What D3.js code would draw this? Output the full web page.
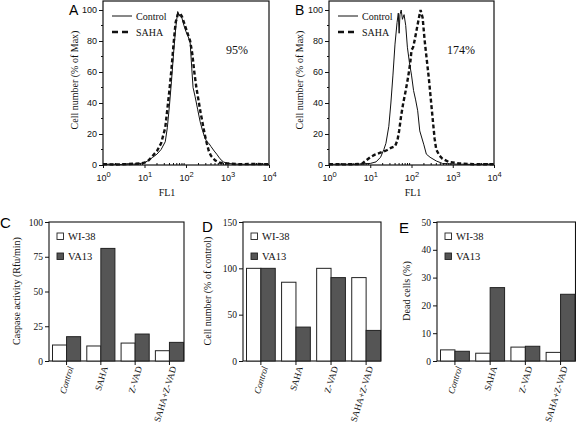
<!DOCTYPE html>
<html><head><meta charset="utf-8">
<script src="https://cdn.jsdelivr.net/npm/d3@7"></script>
<style>body{margin:0;background:#fff}svg{display:block}</style>
</head><body>
<svg id="c" width="576" height="427"></svg>
<script>
// ---------- DATA ----------
// Flow histograms: [log10(FL1), % of max]
const aControl = [[0,0.4],[0.2,0.6],[0.4,0.3],[0.6,0.7],[0.8,0.5],[0.9,1],[1.0,1.5],[1.1,3],[1.2,5],[1.3,7],[1.4,10],[1.5,15],[1.55,24],[1.6,38],[1.65,54],[1.7,72],[1.75,88],[1.8,99],[1.85,96],[1.9,95],[1.95,90],[2.0,86],[2.05,83],[2.1,79],[2.14,62],[2.17,50],[2.22,44],[2.28,36],[2.34,28],[2.4,22],[2.45,18],[2.5,15],[2.55,14],[2.6,12],[2.68,9],[2.74,7],[2.82,4],[2.9,2],[3.0,1],[3.2,0.6],[3.5,0.4],[3.8,0.6],[4.0,0.4]];
const aSaha = [[0,0.5],[0.3,0.3],[0.6,0.6],[0.9,1],[1.0,1.5],[1.1,3],[1.2,6],[1.3,9],[1.4,14],[1.5,24],[1.55,36],[1.6,48],[1.65,62],[1.7,78],[1.75,92],[1.8,97],[1.85,98],[1.9,96],[1.95,92],[2.0,88],[2.05,84],[2.1,80],[2.15,72],[2.2,60],[2.25,50],[2.3,42],[2.35,34],[2.4,27],[2.45,20],[2.5,14],[2.55,9],[2.6,6],[2.7,3],[2.8,1.5],[3.0,1],[3.3,0.5],[3.6,0.7],[4.0,0.5]];
const bControl = [[0,0.4],[0.3,0.6],[0.6,0.4],[0.85,0.8],[1.0,1],[1.14,2],[1.25,5],[1.33,10],[1.38,14],[1.45,25],[1.5,40],[1.55,58],[1.6,78],[1.65,92],[1.68,98],[1.7,85],[1.72,97],[1.75,100],[1.78,94],[1.82,97],[1.86,90],[1.9,76],[1.95,66],[2.0,58],[2.05,48],[2.1,42],[2.15,35],[2.2,22],[2.3,13],[2.36,7],[2.45,5],[2.6,2.6],[2.75,1],[3.0,0.6],[3.5,0.4],[4,0.5]];
const bSaha = [[0,0.5],[0.4,0.4],[0.7,0.6],[0.81,1],[0.9,3],[1.0,5],[1.1,6.5],[1.2,7.5],[1.3,8.5],[1.4,9.5],[1.5,11],[1.6,12],[1.66,16],[1.7,22],[1.75,32],[1.8,40],[1.86,48],[1.92,57],[1.97,66],[2.0,74],[2.04,76],[2.08,81],[2.13,88],[2.18,95],[2.22,100],[2.27,95],[2.32,80],[2.37,68],[2.42,56],[2.47,42],[2.52,28],[2.56,17],[2.6,10],[2.68,6],[2.75,4],[2.9,2],[3.15,1],[3.5,0.5],[4,0.5]];
const histYTicks = [0,20,40,60,80,100];
const histXTicks = [1,10,100,1000,10000];
const histXExp = ["0","1","2","3","4"];
const histPercent = ["95%","174%"];

const categories = ["Control","SAHA","Z-VAD","SAHA+Z-VAD"];
const seriesNames = ["WI-38","VA13"];
const caspaseWI = [11.5,10.8,12.9,7.4];
const caspaseVA = [17.5,81,19.4,13.4];
const cellWI = [100,85,100,90];
const cellVA = [100,36.6,90,33];
const deadWI = [4.0,2.8,5.0,3.1];
const deadVA = [3.5,26.4,5.3,24.0];
const caspaseTicks = [0,25,50,75,100];
const cellTicks = [0,50,100,150];
const deadTicks = [0,10,20,30,40,50];

// ---------- DRAW ----------
const svg = d3.select("#c");
const SERIF = "Liberation Serif, Times New Roman, serif";
const SANS = "Liberation Sans, Arial, sans-serif";
const INK = "#111";

function histPanel(o){
  const g = svg.append("g");
  const x = d3.scaleLog().domain([1,1e4]).range([o.x0,o.x1]);
  const y = d3.scaleLinear().domain([0,100]).range([165,10]);
  const top = 1;
  g.append("rect").attr("x",o.x0).attr("y",top).attr("width",o.x1-o.x0).attr("height",y(0)-top)
    .attr("fill","none").attr("stroke",INK).attr("stroke-width",1.2);
  const ya = g.append("g").attr("transform",`translate(${o.x0},0)`)
    .call(d3.axisLeft(y).tickValues(histYTicks).tickSize(4).tickPadding(2));
  ya.select(".domain").remove();
  ya.selectAll("line").attr("stroke",INK);
  ya.selectAll("text").attr("font-family",SANS).attr("font-size",9).attr("fill",INK);
  g.selectAll(".ym").data(d3.range(10,100,20)).enter().append("line")
    .attr("x1",o.x0-2).attr("x2",o.x0).attr("y1",d=>y(d)).attr("y2",d=>y(d)).attr("stroke",INK);
  const xa = g.append("g").attr("transform",`translate(0,${y(0)})`)
    .call(d3.axisBottom(x).tickValues(histXTicks).tickSize(3).tickFormat(""));
  xa.select(".domain").remove();
  xa.selectAll("line").attr("stroke",INK);
  xa.selectAll(".tick").append("text").attr("y",16).attr("fill",INK)
    .attr("font-family",SANS).attr("font-size",9).attr("text-anchor","middle")
    .each(function(d,i){
      const t=d3.select(this);
      t.append("tspan").text("10");
      t.append("tspan").attr("dy",-4).attr("font-size",7.5).text(histXExp[i]);
    });
  const minors=[];
  for(let dec=1;dec<1e4;dec*=10) for(let k=2;k<10;k++) minors.push(dec*k);
  g.selectAll(".xm").data(minors).enter().append("line")
    .attr("x1",d=>x(d)).attr("x2",d=>x(d)).attr("y1",y(0)).attr("y2",y(0)-2).attr("stroke",INK);
  const line = d3.line().x(d=>x(Math.pow(10,d[0]))).y(d=>y(d[1])).curve(d3.curveLinear);
  g.append("path").datum(o.control).attr("d",line).attr("fill","none").attr("stroke",INK).attr("stroke-width",1);
  g.append("path").datum(o.saha).attr("d",line).attr("fill","none").attr("stroke",INK)
    .attr("stroke-width",2.4).attr("stroke-dasharray","4,2.5");
  const lx=o.x0+9;
  g.append("line").attr("x1",lx).attr("x2",lx+20).attr("y1",16).attr("y2",16).attr("stroke",INK).attr("stroke-width",1);
  g.append("line").attr("x1",lx).attr("x2",lx+20).attr("y1",32).attr("y2",32).attr("stroke",INK)
    .attr("stroke-width",2.4).attr("stroke-dasharray","6,4");
  g.append("text").attr("x",lx+24).attr("y",19.5).text("Control").attr("font-family",SERIF).attr("font-size",10).attr("fill",INK);
  g.append("text").attr("x",lx+24).attr("y",35.5).text("SAHA").attr("font-family",SERIF).attr("font-size",10).attr("fill",INK);
  g.append("text").attr("x",o.pctX).attr("y",54).text(o.pct).attr("text-anchor","middle")
    .attr("font-family",SERIF).attr("font-size",12).attr("fill",INK);
  g.append("text").attr("x",o.flX).attr("y",196).attr("text-anchor","middle").text("FL1")
    .attr("font-family",SERIF).attr("font-size",10).attr("fill",INK);
  g.append("text").attr("transform",`translate(${o.ylX},80) rotate(-90)`).attr("text-anchor","middle")
    .text("Cell number (% of Max)").attr("font-family",SERIF).attr("font-size",10).attr("fill",INK);
  g.append("text").attr("x",o.letX).attr("y",15).text(o.letter).attr("font-family",SANS).attr("font-size",14).attr("fill","#000");
}

histPanel({x0:103,x1:269,control:aControl,saha:aSaha,pct:histPercent[0],pctX:237,flX:167,ylX:78,letX:69,letter:"A"});
histPanel({x0:329,x1:494,control:bControl,saha:bSaha,pct:histPercent[1],pctX:461,flX:413,ylX:303,letX:295,letter:"B"});

function barPanel(o){
  const g = svg.append("g");
  const top=222, bot=361;
  const y = d3.scaleLinear().domain([0,o.max]).range([bot,top]);
  const x = d3.scaleBand().domain(categories).range([o.x0+3.5,o.x1-0.5]).paddingInner(0.18).paddingOuter(0);
  const xs = d3.scaleBand().domain(seriesNames).range([0,x.bandwidth()]);
  g.append("rect").attr("x",o.x0).attr("y",top).attr("width",o.x1-o.x0).attr("height",bot-top)
    .attr("fill","none").attr("stroke",INK).attr("stroke-width",1.1);
  const rows = categories.map((c,i)=>({c,vals:[o.wi[i],o.va[i]]}));
  const grp = g.selectAll(".grp").data(rows).enter().append("g").attr("transform",d=>`translate(${x(d.c)},0)`);
  grp.selectAll("rect").data(d=>d.vals.map((v,j)=>({s:seriesNames[j],v}))).enter().append("rect")
    .attr("x",d=>xs(d.s)).attr("width",xs.bandwidth()).attr("y",d=>y(d.v)).attr("height",d=>bot-y(d.v))
    .attr("fill",d=>d.s==="WI-38"?"#fff":"#555").attr("stroke","#222").attr("stroke-width",1);
  const ya = g.append("g").attr("transform",`translate(${o.x0},0)`)
    .call(d3.axisLeft(y).tickValues(o.ticks).tickSize(4).tickPadding(2));
  ya.select(".domain").remove();
  ya.selectAll("line").attr("stroke",INK);
  ya.selectAll("text").attr("font-family",SERIF).attr("font-size",9.5).attr("fill",INK);
  const xa = g.append("g").attr("transform",`translate(0,${bot})`)
    .call(d3.axisBottom(x).tickSize(4).tickFormat(""));
  xa.select(".domain").remove();
  xa.selectAll("line").attr("stroke",INK);
  xa.selectAll(".tick").append("text")
    .attr("transform","translate(4,5.5) rotate(-73)")
    .attr("text-anchor","end").attr("dy","0.35em")
    .attr("font-family",SERIF).attr("font-size",9.2).attr("fill",INK)
    .attr("font-style",d=>d==="Control"?"italic":"normal")
    .text(d=>d);
  const lx=o.x0+8;
  seriesNames.forEach((s,i)=>{
    const yy=233+i*20;
    g.append("rect").attr("x",lx).attr("y",yy).attr("width",6.5).attr("height",6.5)
      .attr("fill",s==="WI-38"?"#fff":"#555").attr("stroke","#222").attr("stroke-width",0.9);
    g.append("text").attr("x",lx+11).attr("y",yy+7).text(s).attr("font-family",SERIF).attr("font-size",10.5).attr("fill",INK);
  });
  g.append("text").attr("transform",`translate(${o.ylX},291) rotate(-90)`).attr("text-anchor","middle")
    .text(o.ylabel).attr("font-family",SERIF).attr("font-size",10).attr("fill",INK);
  g.append("text").attr("x",o.letX).attr("y",o.letY).text(o.letter).attr("font-family",SANS).attr("font-size",15).attr("fill","#000");
}

barPanel({x0:49,x1:184,max:100,ticks:caspaseTicks,wi:caspaseWI,va:caspaseVA,ylabel:"Caspase activity (Rfu/min)",ylX:20,letX:0,letY:228,letter:"C"});
barPanel({x0:243,x1:381,max:150,ticks:cellTicks,wi:cellWI,va:cellVA,ylabel:"Cell number (% of control)",ylX:211,letX:202,letY:232,letter:"D"});
barPanel({x0:437,x1:575.5,max:50,ticks:deadTicks,wi:deadWI,va:deadVA,ylabel:"Dead cells (%)",ylX:410,letX:399,letY:233,letter:"E"});
</script>
</body></html>
